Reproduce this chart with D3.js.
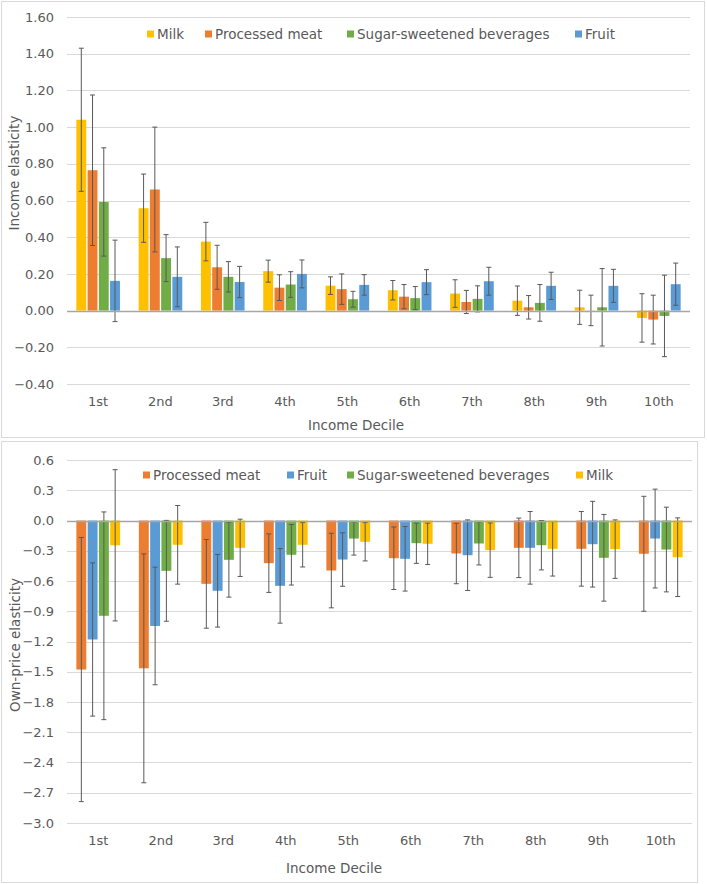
<!DOCTYPE html>
<html><head><meta charset="utf-8">
<script src="https://cdn.jsdelivr.net/npm/d3@7"></script>
<style>
body{margin:0;background:#fff;}
text{font-family:"DejaVu Sans",sans-serif;fill:#595959;}
</style></head>
<body><svg id="c" width="707" height="884"></svg>
<script>
const deciles = ["1st","2nd","3rd","4th","5th","6th","7th","8th","9th","10th"];

// Top chart: income elasticity
const incomeSeries = ["Milk","Processed meat","Sugar-sweetened beverages","Fruit"];
const incMilk      = [1.04, 0.558, 0.376, 0.215, 0.136, 0.111, 0.093, 0.054, 0.018, -0.040];
const incMilkErr   = [0.39, 0.186, 0.105, 0.060, 0.048, 0.053, 0.075, 0.080, 0.093, 0.132];
const incMeat      = [0.765, 0.660, 0.236, 0.125, 0.117, 0.076, 0.047, 0.018, 0.001, -0.049];
const incMeatErr   = [0.41, 0.340, 0.120, 0.070, 0.083, 0.066, 0.063, 0.064, 0.083, 0.133];
const incSSB       = [0.592, 0.286, 0.184, 0.142, 0.062, 0.068, 0.064, 0.042, 0.018, -0.029];
const incSSBErr    = [0.295, 0.128, 0.083, 0.070, 0.043, 0.063, 0.071, 0.100, 0.211, 0.222];
const incFruit     = [0.162, 0.184, 0.156, 0.200, 0.140, 0.155, 0.160, 0.135, 0.135, 0.144];
const incFruitErr  = [0.222, 0.163, 0.085, 0.076, 0.056, 0.068, 0.076, 0.074, 0.090, 0.115];
const incomeTicks  = [1.6,1.4,1.2,1.0,0.8,0.6,0.4,0.2,0,-0.2,-0.4];

// Bottom chart: own-price elasticity
const priceSeries = ["Processed meat","Fruit","Sugar-sweetened beverages","Milk"];
const prMeat      = [-1.478, -1.466, -0.628, -0.423, -0.496, -0.374, -0.327, -0.271, -0.281, -0.330];
const prMeatErr   = [1.31, 1.135, 0.440, 0.290, 0.370, 0.310, 0.300, 0.295, 0.370, 0.570];
const prFruit     = [-1.180, -1.046, -0.697, -0.648, -0.387, -0.380, -0.344, -0.271, -0.235, -0.179];
const prFruitErr  = [0.76, 0.583, 0.360, 0.370, 0.265, 0.320, 0.350, 0.360, 0.425, 0.490];
const prSSB       = [-0.945, -0.499, -0.390, -0.340, -0.179, -0.225, -0.228, -0.245, -0.370, -0.288];
const prSSBErr    = [1.03, 0.500, 0.370, 0.300, 0.164, 0.200, 0.213, 0.245, 0.430, 0.420];
const prMilk      = [-0.246, -0.241, -0.271, -0.241, -0.211, -0.231, -0.294, -0.281, -0.284, -0.364];
const prMilkErr   = [0.75, 0.390, 0.284, 0.220, 0.190, 0.205, 0.270, 0.270, 0.290, 0.390];
const priceTicks  = [0.6,0.3,0,-0.3,-0.6,-0.9,-1.2,-1.5,-1.8,-2.1,-2.4,-2.7,-3.0];

const colorOf = {"Milk":"#FFC000","Processed meat":"#ED7D31","Sugar-sweetened beverages":"#70AD47","Fruit":"#5B9BD5"};

const svg = d3.select("#c");

function drawChart(cfg){
  const g = svg.append("g");
  // panel border
  g.append("rect").attr("x",cfg.panel[0]+0.5).attr("y",cfg.panel[1]+0.5)
    .attr("width",cfg.panel[2]-1).attr("height",cfg.panel[3]-1)
    .attr("fill","#fff").attr("stroke","#D9D9D9").attr("stroke-width",1);

  const y = d3.scaleLinear().domain(cfg.domain).range([cfg.plot.bottom, cfg.plot.top]);
  const x0 = d3.scaleBand().domain(deciles).range([cfg.plot.left, cfg.plot.right]).paddingInner(0.3).paddingOuter(0.15);
  const x1 = d3.scaleBand().domain(cfg.series).range([0, x0.bandwidth()]).paddingInner(0.12);

  // gridlines
  g.append("g").selectAll("line").data(cfg.ticks.filter(t=>t!==0)).join("line")
    .attr("x1",cfg.plot.left).attr("x2",cfg.plot.right)
    .attr("y1",d=>Math.round(y(d))+0.5).attr("y2",d=>Math.round(y(d))+0.5)
    .attr("stroke","#D9D9D9").attr("stroke-width",1);

  // y axis labels
  const yAxis = d3.axisLeft(y).tickValues(cfg.ticks).tickSize(0).tickPadding(0)
    .tickFormat(d3.format(cfg.fmt));
  const ya = g.append("g").attr("transform",`translate(${cfg.plot.left-13},0)`).call(yAxis);
  ya.select(".domain").remove();
  ya.selectAll("text").attr("font-size",13).attr("fill","#595959").style("font-family","DejaVu Sans");

  // bars
  const groups = g.append("g").selectAll("g").data(deciles).join("g")
    .attr("transform",d=>`translate(${x0(d)},0)`);
  cfg.series.forEach((s,si)=>{
    const vals = cfg.values[si], errs = cfg.errors[si];
    groups.append("rect")
      .attr("x",x1(s)).attr("width",x1.bandwidth())
      .attr("y",(d,i)=>y(Math.max(0,vals[i])))
      .attr("height",(d,i)=>Math.abs(y(vals[i])-y(0)))
      .attr("fill",colorOf[s]);
  });
  // zero line
  g.append("line").attr("x1",cfg.plot.left).attr("x2",cfg.plot.right)
    .attr("y1",Math.round(y(0))+0.5).attr("y2",Math.round(y(0))+0.5)
    .attr("stroke","#A6A6A6").attr("stroke-width",1.3);
  // error bars
  cfg.series.forEach((s,si)=>{
    const vals = cfg.values[si], errs = cfg.errors[si];
    const eb = groups.append("g").attr("transform",`translate(${x1(s)+x1.bandwidth()/2},0)`);
    eb.append("line").attr("x1",0).attr("x2",0)
      .attr("y1",(d,i)=>y(vals[i]+errs[i])).attr("y2",(d,i)=>y(vals[i]-errs[i]))
      .attr("stroke","#595959").attr("stroke-width",1);
    eb.append("line").attr("x1",-2.5).attr("x2",2.5)
      .attr("y1",(d,i)=>y(vals[i]+errs[i])).attr("y2",(d,i)=>y(vals[i]+errs[i]))
      .attr("stroke","#595959").attr("stroke-width",1);
    eb.append("line").attr("x1",-2.5).attr("x2",2.5)
      .attr("y1",(d,i)=>y(vals[i]-errs[i])).attr("y2",(d,i)=>y(vals[i]-errs[i]))
      .attr("stroke","#595959").attr("stroke-width",1);
  });

  // x axis labels
  const xAxis = d3.axisBottom(x0).tickSize(0).tickPadding(0);
  const xa = g.append("g").attr("transform",`translate(0,${cfg.xLabelY})`).call(xAxis);
  xa.select(".domain").remove();
  xa.selectAll("text").attr("font-size",13).attr("fill","#595959").attr("dy","0.32em").attr("y",0).style("font-family","DejaVu Sans");

  // axis titles
  g.append("text").attr("x",cfg.xTitle[0]).attr("y",cfg.xTitle[1]).attr("text-anchor","middle")
    .attr("dy","0.35em").attr("font-size",13.5).text("Income Decile");
  g.append("text").attr("transform",`translate(${cfg.yTitle[0]},${cfg.yTitle[1]}) rotate(-90)`)
    .attr("text-anchor","middle").attr("dy","0.35em").attr("font-size",13.5).text(cfg.yTitleText);

  // legend
  const lg = g.append("g");
  cfg.series.forEach((s,si)=>{
    const lx = cfg.legendX[si];
    lg.append("rect").attr("x",lx).attr("y",cfg.legendY-3.5).attr("width",7).attr("height",7).attr("fill",colorOf[s]);
    lg.append("text").attr("x",lx+10).attr("y",cfg.legendY).attr("dy","0.35em").attr("font-size",13.5).text(s);
  });
}

drawChart({
  panel:[1,1,704,437],
  plot:{left:67,right:690,top:17,bottom:384},
  domain:[-0.4,1.6], ticks:incomeTicks, fmt:".2f",
  series:incomeSeries,
  values:[incMilk,incMeat,incSSB,incFruit],
  errors:[incMilkErr,incMeatErr,incSSBErr,incFruitErr],
  xLabelY:402, xTitle:[356,425], yTitle:[14,173], yTitleText:"Income elasticity",
  legendY:34, legendX:[147,205,347,575]
});

drawChart({
  panel:[1,441,697,442],
  plot:{left:67,right:692,top:460,bottom:823},
  domain:[-3.0,0.6], ticks:priceTicks, fmt:".1f",
  series:priceSeries,
  values:[prMeat,prFruit,prSSB,prMilk],
  errors:[prMeatErr,prFruitErr,prSSBErr,prMilkErr],
  xLabelY:841, xTitle:[334,868], yTitle:[15,645], yTitleText:"Own-price elasticity",
  legendY:475, legendX:[143,287,347,576]
});
</script></body></html>
